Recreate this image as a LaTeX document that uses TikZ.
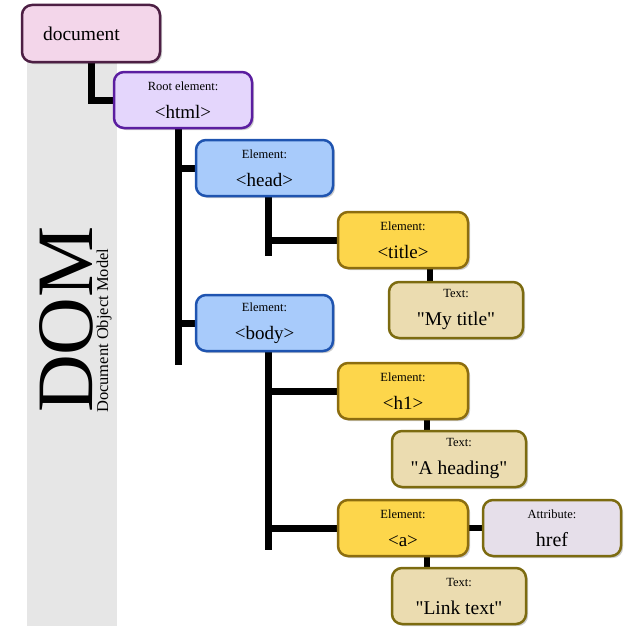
\documentclass[tikz,border=0pt]{standalone}
\usepackage{fontspec}
\setmainfont{Liberation Serif}
\usepackage{xcolor}
\usepackage{tikz}
\usetikzlibrary{positioning,shadows,backgrounds}

\definecolor{docfill}{HTML}{F3D6EA}
\definecolor{docline}{HTML}{4D1F44}
\definecolor{rootfill}{HTML}{E4D6FC}
\definecolor{rootline}{HTML}{5B1EA0}
\definecolor{elemfill}{HTML}{A8CBFB}
\definecolor{elemline}{HTML}{1F54B0}
\definecolor{tagfill}{HTML}{FDD64B}
\definecolor{tagline}{HTML}{8C6D0F}
\definecolor{txtfill}{HTML}{EBDCB0}
\definecolor{txtline}{HTML}{7C6B10}
\definecolor{attrfill}{HTML}{E6DFEA}
\definecolor{bandgray}{HTML}{E6E6E6}

\newcommand{\lblsize}{\fontsize{12.5}{14}\selectfont}

\tikzstyle{nodebox} = [rectangle, draw, rounded corners=10pt, line width=2.5pt,
    outer sep=0pt, align=center, minimum height=56pt,
    drop shadow={shadow xshift=2pt, shadow yshift=-2pt, fill=black, opacity=0.2},
    font=\fontsize{19}{20}\selectfont]
\tikzstyle{docbox} = [nodebox, fill=docfill, draw=docline,
    text width=96pt, align=left, inner xsep=21pt, minimum height=57pt,
    font=\fontsize{19.5}{20}\selectfont]
\tikzstyle{rootbox} = [nodebox, fill=rootfill, draw=rootline, minimum width=138pt]
\tikzstyle{elembox} = [nodebox, fill=elemfill, draw=elemline, minimum width=137pt]
\tikzstyle{tagbox} = [nodebox, fill=tagfill, draw=tagline, minimum width=130pt]
\tikzstyle{txtbox} = [nodebox, fill=txtfill, draw=txtline, minimum width=134pt,
    font=\fontsize{19.5}{20}\selectfont]
\tikzstyle{attrbox} = [nodebox, fill=attrfill, draw=txtline, minimum width=138pt,
    font=\fontsize{20}{20}\selectfont]
\tikzstyle{trunk} = [draw, line width=7pt]
\tikzstyle{stub} = [draw, line width=6pt]

\begin{document}
\begin{tikzpicture}[x=1pt, y=-1pt]
    \useasboundingbox (0,0) rectangle (631,626);
    % Place nodes
    \node [docbox] (doc) at (91,33.5) {document};
    \node [rootbox, below right=10pt and -46pt of doc] (html) {{\lblsize Root element:}\\[8pt]<html>};
    \node [elembox, below right=12pt and -56pt of html] (head) {{\lblsize Element:}\\[8pt]<head>};
    \node [elembox, below=99pt of head] (body) {{\lblsize Element:}\\[8pt]<body>};
    \node [tagbox, below right=16pt and 5pt of head] (title) {{\lblsize Element:}\\[8pt]<title>};
    \node [txtbox, below right=14pt and -79pt of title] (mytitle) {{\lblsize Text:}\\[8pt]\textquotedbl My title\textquotedbl};
    \node [tagbox, below right=12pt and 5pt of body] (h1) {{\lblsize Element:}\\[8pt]<h1>};
    \node [txtbox, below right=12pt and -76pt of h1] (heading) {{\lblsize Text:}\\[8pt]\textquotedbl A heading\textquotedbl};
    \node [tagbox, below=81pt of h1] (anchor) {{\lblsize Element:}\\[8pt]<a>};
    \node [attrbox, right=15pt of anchor] (href) {{\lblsize Attribute:}\\[8pt]href};
    \node [txtbox, below right=12pt and -76pt of anchor] (link) {{\lblsize Text:}\\[8pt]\textquotedbl Link text\textquotedbl};

    % DOM caption
    \node [rotate=90, anchor=base west, inner sep=0pt,
        font=\fontsize{80}{80}\selectfont] (dom) at (92,413) {DOM};
    \node [rotate=90, anchor=base west, inner sep=0pt,
        font=\fontsize{16.5}{17}\selectfont] (domsub) at (108,413) {Document Object Model};

    % Draw edges
    \coordinate (htmlend) at (178,365);
    \coordinate (headend) at (268,256);
    \coordinate (bodyend) at (268,550);
    \begin{scope}[on background layer]
    \fill [bandgray] (27,50) rectangle (117,626);
    \path [trunk] (doc.south) |- (html.west);
    \path [trunk] (html.south -| htmlend) -- (htmlend);
    \path [trunk] (head.west) -- (head.west -| htmlend);
    \path [trunk] (body.west) -- (body.west -| htmlend);
    \path [trunk] (head.south -| headend) -- (headend);
    \path [trunk] (title.west) -- (title.west -| headend);
    \path [trunk] (body.south -| bodyend) -- (bodyend);
    \path [trunk] (h1.west) -- (h1.west -| bodyend);
    \path [trunk] (anchor.west) -- (anchor.west -| bodyend);
    \path [stub] ([xshift=27pt]title.south) -- ([xshift=27pt]title.south |- mytitle.north);
    \path [stub] ([xshift=24pt]h1.south) -- ([xshift=24pt]h1.south |- heading.north);
    \path [stub] ([xshift=24pt]anchor.south) -- ([xshift=24pt]anchor.south |- link.north);
    \path [stub] (anchor.east) -- (href.west);
    \end{scope}
\end{tikzpicture}
\end{document}
